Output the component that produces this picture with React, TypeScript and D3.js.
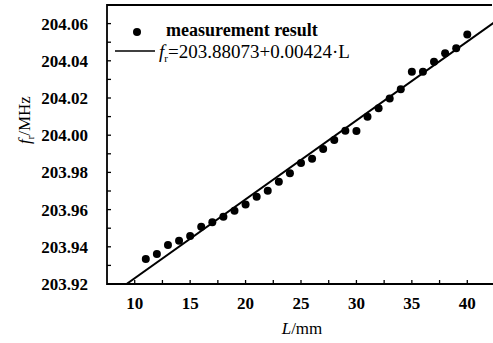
import React from "react";
import * as d3 from "d3";

const lengths = [11,12,13,14,15,16,17,18,19,20,21,22,23,24,25,26,27,28,29,30,31,32,33,34,35,36,37,38,39,40];
const freqs = [203.9334,203.9361,203.9410,203.9433,203.9458,203.9508,203.9532,203.9562,203.9594,203.9628,203.9669,203.9702,203.9750,203.9795,203.9850,203.9873,203.9926,203.9974,204.0024,204.0023,204.0099,204.0145,204.0197,204.0247,204.0341,204.0341,204.0395,204.0440,204.0467,204.0542];
const xTickLabels = [10,15,20,25,30,35,40];
const xMinorTicks = [10,12.5,15,17.5,20,22.5,25,27.5,30,32.5,35,37.5,40,42.5];
const yTickLabels = [203.92,203.94,203.96,203.98,204.00,204.02,204.04,204.06];
const yMinorTicks = [203.93,203.94,203.95,203.96,203.97,203.98,203.99,204.00,204.01,204.02,204.03,204.04,204.05,204.06];
const fitIntercept = 203.88073;
const fitSlope = 0.00424;

export default function App() {
  const W = 493, H = 343;
  const left = 107, right = 495, top = 5, bottom = 284;
  const x = d3.scaleLinear().domain([7.5, 42.5]).range([left, right]);
  const y = d3.scaleLinear().domain([203.92, 204.07]).range([bottom, top]);
  const lStart = (203.92 - fitIntercept) / fitSlope;
  const lineGen = d3.line<number>().x(d => x(d)).y(d => y(fitIntercept + fitSlope * d));
  const serif = "'Liberation Serif', 'Times New Roman', serif";
  return (
    <svg width={W} height={H} style={{ position: "absolute", left: 0, top: 0, background: "#fff" }} fontFamily={serif}>
      <defs>
        <clipPath id="plot"><rect x={left} y={top} width={right - left} height={bottom - top} /></clipPath>
      </defs>
      <path d={`M${492},${top}H${left}V${bottom}H${493}`} fill="none" stroke="#000" strokeWidth={1.8} />
      {xMinorTicks.map(t => (
        <line key={"xt" + t} x1={x(t)} x2={x(t)} y1={bottom} y2={bottom - 4} stroke="#000" strokeWidth={1.3} />
      ))}
      {yMinorTicks.map(t => (
        <line key={"yt" + t} x1={left} x2={left + 4} y1={y(t)} y2={y(t)} stroke="#000" strokeWidth={1.3} />
      ))}
      {xTickLabels.map(t => (
        <text key={"xl" + t} x={x(t)} y={309} textAnchor="middle" fontSize={17} fontWeight="bold">{t}</text>
      ))}
      {yTickLabels.map(t => (
        <text key={"yl" + t} x={88} y={y(t)} dy="0.35em" textAnchor="end" fontSize={17} fontWeight="bold">{t.toFixed(2)}</text>
      ))}
      <text x={302} y={334} textAnchor="middle" fontSize={17}>
        <tspan fontStyle="italic">L</tspan>/mm
      </text>
      <text transform="translate(30,120) rotate(-90)" textAnchor="middle" fontSize={17}>
        <tspan fontStyle="italic">f</tspan><tspan fontSize={10} dy={4}>r</tspan><tspan dy={-4}>/MHz</tspan>
      </text>
      <g clipPath="url(#plot)">
        <path d={lineGen([lStart, 42.5]) || ""} fill="none" stroke="#000" strokeWidth={2} />
      </g>
      {lengths.map((l, i) => (
        <circle key={"p" + i} cx={x(l)} cy={y(freqs[i])} r={4} fill="#000" />
      ))}
      <circle cx={137} cy={32} r={4} fill="#000" />
      <text x={166} y={36} fontSize={18} fontWeight="bold">measurement result</text>
      <line x1={115} x2={155} y1={51} y2={51} stroke="#000" strokeWidth={1.5} />
      <text x={159} y={58} fontSize={19}>
        <tspan fontStyle="italic">f</tspan><tspan fontSize={11} dy={4}>r</tspan><tspan dy={-4}>=203.88073+0.00424·L</tspan>
      </text>
    </svg>
  );
}
